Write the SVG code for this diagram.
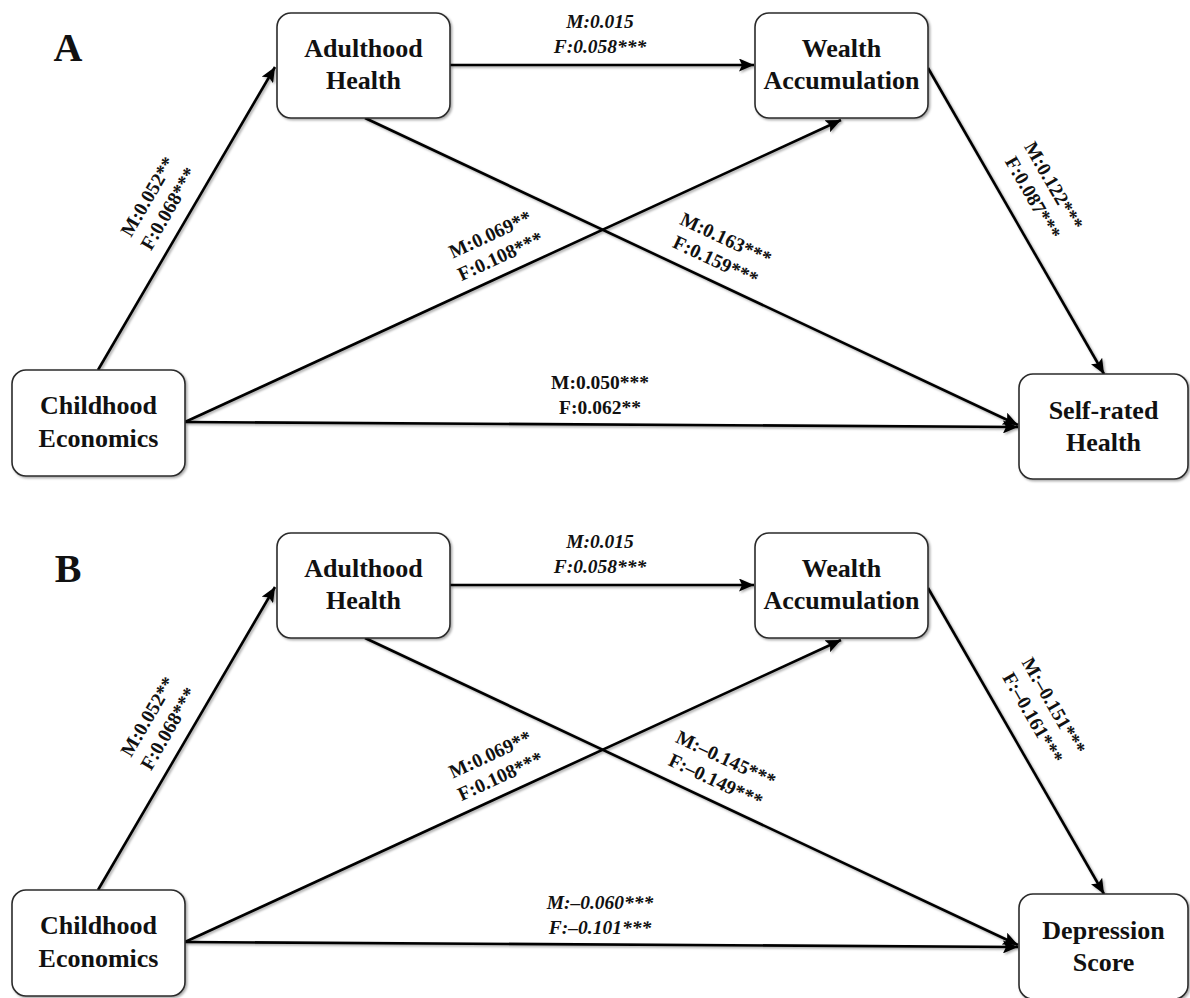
<svg xmlns="http://www.w3.org/2000/svg" width="1190" height="998" viewBox="0 0 1190 998">
<style>
.box{fill:#fff;stroke:#2b2b2b;stroke-width:1.6;filter:url(#sh)}
.nt{font-family:"Liberation Serif","Times New Roman",serif;font-weight:bold;font-size:26px;text-anchor:middle;fill:#111}
.lb{font-family:"Liberation Serif","Times New Roman",serif;font-weight:bold;font-size:19.5px;text-anchor:middle;fill:#111}
.it{font-style:italic}
.pl{font-family:"Liberation Serif","Times New Roman",serif;font-weight:bold;font-size:40px;text-anchor:middle;fill:#111}
.ln{stroke:#000;stroke-width:2.6;fill:none;marker-end:url(#ah)}
</style>
<defs>
<filter id="sh" x="-10%" y="-10%" width="130%" height="130%">
<feDropShadow dx="1.5" dy="1.5" stdDeviation="1.2" flood-color="#000" flood-opacity="0.35"/>
</filter>
<marker id="ah" markerUnits="userSpaceOnUse" markerWidth="17" markerHeight="13" refX="15" refY="6.5" orient="auto">
<path d="M0,0 L15,6.5 L0,13 L3,6.5 z" fill="#000"/>
</marker>
</defs>
<rect width="1190" height="998" fill="#fff"/>

<!-- Panel A -->
<text class="pl" x="68" y="61">A</text>
<g id="connectors-A" filter="url(#sh)">
<line class="ln" x1="98" y1="370" x2="275" y2="67"/>
<line class="ln" x1="450" y1="65" x2="754" y2="65"/>
<line class="ln" x1="365" y1="118" x2="1018" y2="425"/>
<line class="ln" x1="185" y1="422" x2="841" y2="120"/>
<line class="ln" x1="185" y1="422" x2="1018" y2="427"/>
<line class="ln" x1="928" y1="68" x2="1104" y2="374"/>
</g>
<g id="labels-A">
<text class="lb it" x="600" y="28">M:0.015</text>
<text class="lb it" x="600" y="53">F:0.058***</text>
<text class="lb" x="600" y="389">M:0.050***</text>
<text class="lb" x="600" y="414">F:0.062**</text>
<g transform="translate(186.2,219) rotate(-59.7)"><text class="lb" y="-38">M:0.052**</text><text class="lb" y="-14">F:0.068***</text></g>
<g transform="translate(508,273) rotate(-24.72)"><text class="lb" y="-36">M:0.069**</text><text class="lb" y="-12">F:0.108***</text></g>
<g transform="translate(707,279) rotate(25.18)"><text class="lb" y="-38">M:0.163***</text><text class="lb" y="-14">F:0.159***</text></g>
<g transform="translate(1010,211) rotate(60.1)"><text class="lb" y="-44">M:0.122***</text><text class="lb" y="-20">F:0.087***</text></g>
</g>
<g id="A-adulthood"><rect class="box" x="277" y="13" width="173" height="105" rx="14"/><text class="nt" x="363.5" y="57">Adulthood</text><text class="nt" x="363.5" y="89">Health</text></g>
<g id="A-wealth"><rect class="box" x="755" y="13" width="173" height="105" rx="14"/><text class="nt" x="841.5" y="57">Wealth</text><text class="nt" x="841.5" y="89">Accumulation</text></g>
<g id="A-childhood"><rect class="box" x="12" y="370" width="173" height="106" rx="14"/><text class="nt" x="98.5" y="414">Childhood</text><text class="nt" x="98.5" y="447">Economics</text></g>
<g id="A-selfrated"><rect class="box" x="1019" y="374" width="169" height="105" rx="14"/><text class="nt" x="1103.5" y="419">Self-rated</text><text class="nt" x="1103.5" y="451">Health</text></g>

<!-- Panel B -->
<text class="pl" x="68" y="582">B</text>
<g id="connectors-B" filter="url(#sh)">
<line class="ln" x1="98" y1="890" x2="275" y2="587"/>
<line class="ln" x1="450" y1="585" x2="754" y2="585"/>
<line class="ln" x1="365" y1="638" x2="1018" y2="945"/>
<line class="ln" x1="185" y1="942" x2="841" y2="640"/>
<line class="ln" x1="185" y1="942" x2="1018" y2="947"/>
<line class="ln" x1="928" y1="588" x2="1104" y2="894"/>
</g>
<g id="labels-B">
<text class="lb it" x="600" y="548">M:0.015</text>
<text class="lb it" x="600" y="573">F:0.058***</text>
<text class="lb it" x="600" y="909">M:–0.060***</text>
<text class="lb it" x="600" y="934">F:–0.101***</text>
<g transform="translate(186.2,739) rotate(-59.7)"><text class="lb" y="-38">M:0.052**</text><text class="lb" y="-14">F:0.068***</text></g>
<g transform="translate(508,793) rotate(-24.72)"><text class="lb" y="-36">M:0.069**</text><text class="lb" y="-12">F:0.108***</text></g>
<g transform="translate(707,799) rotate(25.18)"><text class="lb" y="-38">M:–0.145***</text><text class="lb" y="-14">F:–0.149***</text></g>
<g transform="translate(1010,731) rotate(60.1)"><text class="lb" y="-44">M:–0.151***</text><text class="lb" y="-20">F:–0.161***</text></g>
</g>
<g id="B-adulthood"><rect class="box" x="277" y="533" width="173" height="105" rx="14"/><text class="nt" x="363.5" y="577">Adulthood</text><text class="nt" x="363.5" y="609">Health</text></g>
<g id="B-wealth"><rect class="box" x="755" y="533" width="173" height="105" rx="14"/><text class="nt" x="841.5" y="577">Wealth</text><text class="nt" x="841.5" y="609">Accumulation</text></g>
<g id="B-childhood"><rect class="box" x="12" y="890" width="173" height="106" rx="14"/><text class="nt" x="98.5" y="934">Childhood</text><text class="nt" x="98.5" y="967">Economics</text></g>
<g id="B-depression"><rect class="box" x="1019" y="894" width="169" height="105" rx="14"/><text class="nt" x="1103.5" y="939">Depression</text><text class="nt" x="1103.5" y="971">Score</text></g>
</svg>
